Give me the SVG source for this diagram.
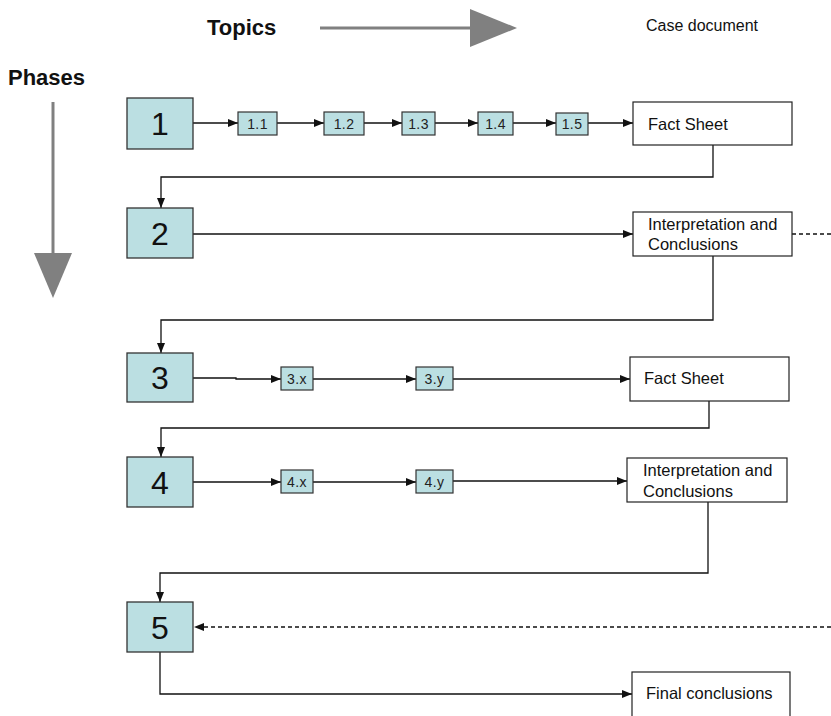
<svg xmlns="http://www.w3.org/2000/svg" width="831" height="716" viewBox="0 0 831 716">
<style>
.bg{fill:#ffffff}
.phase rect{fill:#bbdfe2;stroke:#333333;stroke-width:1.3}
.phase text{font-family:"Liberation Sans",Arial,sans-serif;font-size:32px;fill:#111;text-anchor:middle;dominant-baseline:central}
.topic rect{fill:#bbdfe2;stroke:#333333;stroke-width:1.2}
.topic text{font-family:"Liberation Sans",Arial,sans-serif;font-size:14px;fill:#222;text-anchor:middle;dominant-baseline:central;letter-spacing:0.4px}
.doc rect{fill:#ffffff;stroke:#222222;stroke-width:1.2}
.doc text{font-family:"Liberation Sans",Arial,sans-serif;font-size:16.5px;fill:#111}
.conn path{fill:none;stroke:#111111;stroke-width:1.3}
.conn .dash{stroke-dasharray:4 3}
.head{font-family:"Liberation Sans",Arial,sans-serif;font-weight:bold;font-size:22px;fill:#111}
.cap{font-family:"Liberation Sans",Arial,sans-serif;font-size:16px;fill:#111}
.big{fill:#808080}
</style>
<defs>
<marker id="ah" viewBox="0 0 10 8" refX="10" refY="4" markerWidth="10" markerHeight="8" markerUnits="userSpaceOnUse" orient="auto">
<path d="M0,0 L10,4 L0,8 z" fill="#111111"/>
</marker>
</defs>
<rect class="bg" x="0" y="0" width="831" height="716"/>

<g id="legend">
<text class="head" x="207" y="35">Topics</text>
<line x1="320" y1="28" x2="472" y2="28" stroke="#808080" stroke-width="3"/>
<polygon class="big" points="470,9 517,28 470,47"/>
<text class="cap" x="646" y="31">Case document</text>
<text class="head" x="8" y="85">Phases</text>
<line x1="53" y1="102" x2="53" y2="255" stroke="#808080" stroke-width="3"/>
<polygon class="big" points="34,253 72,253 53,298"/>
</g>

<g id="connectors" class="conn">
<path d="M193,123 H238" marker-end="url(#ah)"/>
<path d="M277,123 H324" marker-end="url(#ah)"/>
<path d="M364,123 H402" marker-end="url(#ah)"/>
<path d="M435,123 H478" marker-end="url(#ah)"/>
<path d="M513,123 H556" marker-end="url(#ah)"/>
<path d="M588,123 H633" marker-end="url(#ah)"/>
<path d="M713,145 V177 H161 V208" marker-end="url(#ah)"/>
<path d="M193,234 H633" marker-end="url(#ah)"/>
<path class="dash" d="M792,234 H831"/>
<path d="M713,256 V320 H161 V353" marker-end="url(#ah)"/>
<path d="M193,378 H236 V379 H281" marker-end="url(#ah)"/>
<path d="M313,379 H416" marker-end="url(#ah)"/>
<path d="M453,379 H630" marker-end="url(#ah)"/>
<path d="M709,401 V428 H161 V457" marker-end="url(#ah)"/>
<path d="M193,482 H281" marker-end="url(#ah)"/>
<path d="M313,482 H416" marker-end="url(#ah)"/>
<path d="M453,481 H627" marker-end="url(#ah)"/>
<path d="M708,502 V573 H160 V602" marker-end="url(#ah)"/>
<path class="dash" d="M831,627 H194" marker-end="url(#ah)"/>
<path d="M160,652 V694 H632" marker-end="url(#ah)"/>
</g>

<g id="phase1" class="phase"><rect x="127" y="98" width="66" height="51"/><text x="160" y="124">1</text></g>
<g id="phase2" class="phase"><rect x="127" y="208" width="66" height="50"/><text x="160" y="234">2</text></g>
<g id="phase3" class="phase"><rect x="127" y="353" width="66" height="49"/><text x="160" y="378">3</text></g>
<g id="phase4" class="phase"><rect x="127" y="457" width="66" height="50"/><text x="160" y="483">4</text></g>
<g id="phase5" class="phase"><rect x="127" y="602" width="66" height="50"/><text x="160" y="628">5</text></g>

<g id="t1_1" class="topic"><rect x="238" y="112" width="39" height="23"/><text x="257.5" y="124">1.1</text></g>
<g id="t1_2" class="topic"><rect x="324" y="112" width="40" height="23"/><text x="344" y="124">1.2</text></g>
<g id="t1_3" class="topic"><rect x="402" y="112" width="33" height="23"/><text x="418.5" y="124">1.3</text></g>
<g id="t1_4" class="topic"><rect x="478" y="112" width="35" height="23"/><text x="495.5" y="124">1.4</text></g>
<g id="t1_5" class="topic"><rect x="556" y="113" width="32" height="22"/><text x="572" y="124">1.5</text></g>
<g id="t3_x" class="topic"><rect x="281" y="367" width="32" height="23"/><text x="297" y="379">3.x</text></g>
<g id="t3_y" class="topic"><rect x="416" y="367" width="37" height="23"/><text x="434.5" y="379">3.y</text></g>
<g id="t4_x" class="topic"><rect x="281" y="470" width="32" height="23"/><text x="297" y="482">4.x</text></g>
<g id="t4_y" class="topic"><rect x="416" y="470" width="37" height="23"/><text x="434.5" y="482">4.y</text></g>

<g id="doc1" class="doc"><rect x="633" y="102" width="159" height="43"/><text x="648" y="130">Fact Sheet</text></g>
<g id="doc2" class="doc"><rect x="633" y="212" width="159" height="44"/><text x="648" y="230">Interpretation and</text><text x="648" y="250">Conclusions</text></g>
<g id="doc3" class="doc"><rect x="630" y="357" width="159" height="44"/><text x="644" y="384">Fact Sheet</text></g>
<g id="doc4" class="doc"><rect x="627" y="458" width="160" height="44"/><text x="643" y="476">Interpretation and</text><text x="643" y="497">Conclusions</text></g>
<g id="doc5" class="doc"><rect x="632" y="672" width="158" height="60"/><text x="646" y="699">Final conclusions</text></g>
</svg>
